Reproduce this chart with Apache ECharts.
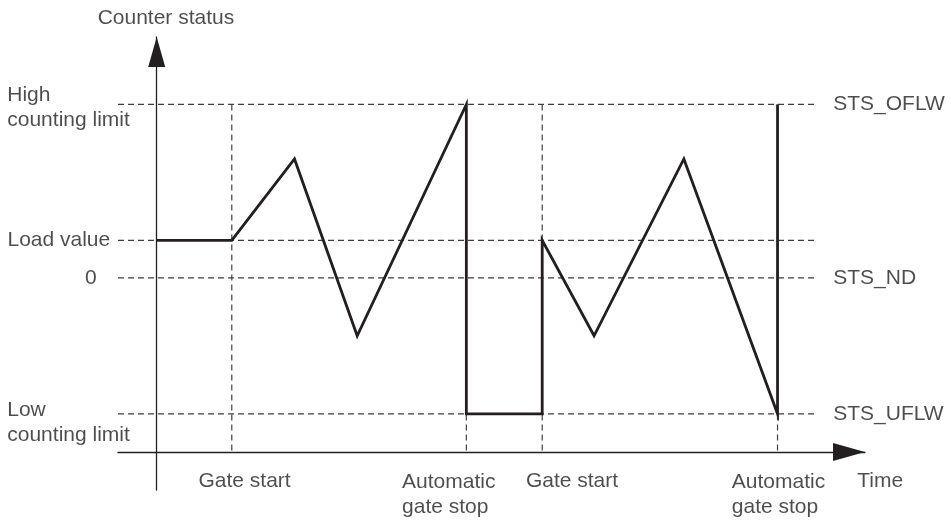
<!DOCTYPE html>
<html>
<head>
<meta charset="utf-8">
<script src="https://cdn.jsdelivr.net/npm/echarts@6/dist/echarts.min.js"></script>
<style>
html,body{margin:0;padding:0;background:#fff;}
#chart{width:950px;height:521px;}
</style>
</head>
<body>
<div id="chart"></div>
<script>
// ---- data ----
const levelNames = ['High\ncounting limit', 'Load value', '0', 'Low\ncounting limit'];
const levelValues = [18, 3.9, 0, -14.1];
const statusLabels = ['STS_OFLW', 'STS_ND', 'STS_UFLW'];
const statusValues = [18, 0, -14.1];
const eventLabels = ['Gate start', 'Automatic\ngate stop', 'Gate start', 'Automatic\ngate stop'];
const eventTimes = [9.7, 40, 49.8, 80.2];
const counterTime = [0, 9.7, 17.8, 25.9, 40, 40, 49.8, 49.8, 56.5, 68.1, 80.2, 80.2];
const counterValue = [3.9, 3.9, 12.35, -6, 18, -14.1, -14.1, 3.9, -6, 12.35, -14.1, 18];
const axisNameY = 'Counter status';
const axisNameX = 'Time';

// ---- layout constants ----
const FONT = '"Liberation Sans", Arial, Helvetica, sans-serif';
const TXT = '#231f20';
const X_MIN = -5, X_MAX = 91.5, Y_MIN = -22, Y_MAX = 25;
const DASH_END = 85.4, TIME_AXIS_Y = -18;

const dashStyle = { color: '#3f3f3f', width: 1.2, type: [6, 4] };

const series = [];

// horizontal dashed level lines
levelValues.forEach(function (v) {
  series.push({
    type: 'line', silent: true, symbol: 'none', animation: false,
    lineStyle: dashStyle, z: 1,
    data: [[X_MIN, v], [DASH_END, v]]
  });
});
// vertical dashed event lines
eventTimes.forEach(function (t) {
  series.push({
    type: 'line', silent: true, symbol: 'none', animation: false,
    lineStyle: dashStyle, z: 1,
    data: [[t, levelValues[0]], [t, TIME_AXIS_Y]]
  });
});
// counter trace
series.push({
  type: 'line', silent: true, symbol: 'none', animation: false, z: 3,
  lineStyle: { color: TXT, width: 2.8, join: 'miter' },
  data: counterTime.map(function (t, i) { return [t, counterValue[i]]; })
});

// text annotations placed through the axes
function lab(x, y, text, align, vAlign) {
  return {
    value: [x, y],
    label: { formatter: text, align: align, verticalAlign: vAlign }
  };
}
const leftX = [-19.3, -6.0, -8.5, -19.3];
const leftAlign = ['left', 'right', 'center', 'left'];
const leftY = [17.7, 3.9, 0, -15.0];
const annotations = [];
levelNames.forEach(function (n, i) {
  annotations.push(lab(leftX[i], leftY[i], n, leftAlign[i], 'middle'));
});
statusLabels.forEach(function (n, i) {
  annotations.push(lab(87.4, statusValues[i], n, 'left', 'middle'));
});
const evLabelX = [5.4, 31.7, 47.7, 74.3];
const evLabelY = [-21.1, -22.45, -21.1, -22.45];
eventLabels.forEach(function (n, i) {
  annotations.push(lab(evLabelX[i], evLabelY[i], n, 'left', 'middle'));
});
annotations.push(lab(90.5, -21.1, axisNameX, 'left', 'middle'));
annotations.push(lab(1.2, 26.9, axisNameY, 'center', 'middle'));

series.push({
  type: 'scatter', silent: true, animation: false, clip: false, z: 5,
  symbolSize: 0.1,
  itemStyle: { color: 'rgba(0,0,0,0)' },
  label: {
    show: true, position: [0, 0], color: TXT,
    fontFamily: FONT, fontSize: 21, lineHeight: 25
  },
  data: annotations
});

const chart = echarts.init(document.getElementById('chart'), null, { renderer: 'canvas' });
chart.setOption({
  animation: false,
  backgroundColor: '#ffffff',
  grid: { left: 118, right: 85, top: 37, bottom: 31, containLabel: false },
  xAxis: {
    type: 'value', min: X_MIN, max: X_MAX, position: 'bottom', offset: -38,
    axisLine: {
      show: true, onZero: false,
      symbol: ['none', 'triangle'], symbolSize: [18, 32], symbolOffset: [0, -16],
      lineStyle: { color: TXT, width: 1.3 }
    },
    axisTick: { show: false }, axisLabel: { show: false }, splitLine: { show: false }
  },
  yAxis: {
    type: 'value', min: Y_MIN, max: Y_MAX,
    axisLine: {
      show: true, onZero: true,
      symbol: ['none', 'triangle'], symbolSize: [17, 30], symbolOffset: [0, -15],
      lineStyle: { color: TXT, width: 1.3 }
    },
    axisTick: { show: false }, axisLabel: { show: false }, splitLine: { show: false }
  },
  series: series
});
</script>
</body>
</html>
